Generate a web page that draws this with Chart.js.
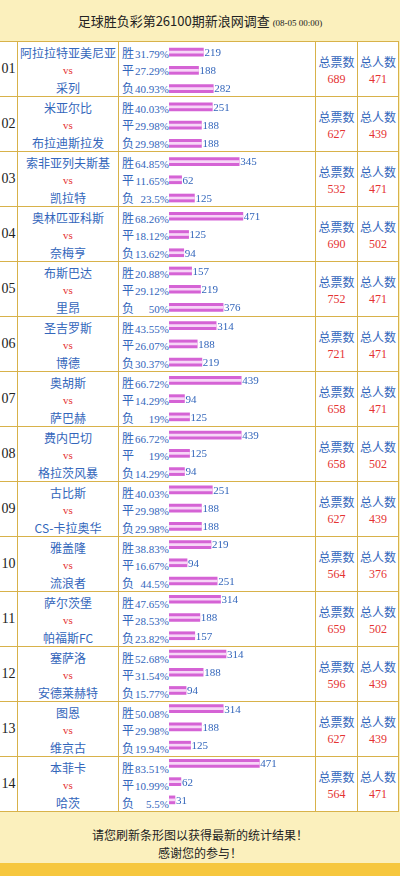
<!DOCTYPE html>
<html><head><meta charset="utf-8">
<script src="https://cdn.jsdelivr.net/npm/chart.js@4"></script>
<style>
body{margin:0;width:400px;height:876px;background:#fbf0bd;position:relative;overflow:hidden;font-family:"Noto Sans CJK SC",sans-serif}
#hdr{position:absolute;left:0;top:0;width:400px;height:41px;line-height:41px;text-align:center;font-size:13px;color:#222}
#hdr small{font-size:9px;font-family:"Liberation Serif",serif}
#tbl{position:absolute;left:0;top:41px;width:399px;height:770px;background:#fff;border-top:1px solid #d8b24a}
.row{position:absolute;left:0;width:399px;height:55px;border-bottom:1px solid #d8b24a;box-sizing:border-box}
.c{position:absolute;top:0;height:100%;border-left:1px solid #d8b24a;box-sizing:border-box}
.no{left:0;width:17px;font-family:"Liberation Serif",serif;font-size:14px;color:#222;line-height:54px;text-align:center;border-left:none}
.tm{left:17px;width:101px;text-align:center;font-size:12px;color:#3366bb}
.tm div{position:absolute;left:0;width:100%;line-height:16px}
.vs{color:#e53333;font-family:"Liberation Serif",serif;font-size:11px}
.od{left:118px;width:197px;font-size:12px;color:#3366bb}
.od div{position:absolute;left:3px;line-height:16px}
.od span{display:inline-block;width:35px;text-align:right;font-family:"Liberation Serif",serif;font-size:11px}
.tv{left:315px;width:42px;text-align:center;font-size:12px;color:#3366bb;padding-top:12px;line-height:16px}
.tp{left:357px;width:42px;text-align:center;font-size:12px;color:#3366bb;padding-top:12px;line-height:16px;border-right:1px solid #d8b24a}
.red{color:#e53333;font-family:"Liberation Serif",serif}
#cv{position:absolute;left:169px;top:43px;width:145px;height:766px}
#ft{position:absolute;left:0;top:826px;width:400px;text-align:center;font-size:12px;color:#222;line-height:18px}
#bb{position:absolute;left:0;top:863px;width:400px;height:13px;background:#f6c73e}
</style></head><body>
<div id="hdr">足球胜负彩第26100期新浪网调查 <small>(08-05 00:00)</small></div>
<div id="tbl"></div>
<div id="cv"><canvas id="c"></canvas></div>
<div id="ft">请您刷新条形图以获得最新的统计结果！<br>感谢您的参与！</div>
<div id="bb"></div>
<script>
const homeTeams=["阿拉拉特亚美尼亚","米亚尔比","索非亚列夫斯基","奥林匹亚科斯","布斯巴达","圣吉罗斯","奥胡斯","费内巴切","古比斯","雅盖隆","萨尔茨堡","塞萨洛","图恩","本菲卡"];
const awayTeams=["采列","布拉迪斯拉发","凯拉特","奈梅亨","里昂","博德","萨巴赫","格拉茨风暴","CS-卡拉奥华","流浪者","帕福斯FC","安德莱赫特","维京古","哈茨"];
const winPct=[31.79,40.03,64.85,68.26,20.88,43.55,66.72,66.72,40.03,38.83,47.65,52.68,50.08,83.51];
const drawPct=[27.29,29.98,11.65,18.12,29.12,26.07,14.29,19,29.98,16.67,28.53,31.54,29.98,10.99];
const lossPct=[40.93,29.98,23.5,13.62,50,30.37,19,14.29,29.98,44.5,23.82,15.77,19.94,5.5];
const winCnt=[219,251,345,471,157,314,439,439,251,219,314,314,314,471];
const drawCnt=[188,188,62,125,219,188,94,125,188,94,188,188,188,62];
const lossCnt=[282,188,125,94,376,219,125,94,188,251,157,94,125,31];
const totalVotes=[689,627,532,690,752,721,658,658,627,564,659,596,627,564];
const totalPeople=[471,439,471,502,471,471,471,502,439,376,502,439,439,471];
const outcomeLabels=["胜","平","负"];

const tbl=document.getElementById('tbl');
const offs=[3,20,38];
homeTeams.forEach((h,i)=>{
  const pcts=[winPct[i],drawPct[i],lossPct[i]];
  let od='';
  for(let k=0;k<3;k++) od+=`<div style="top:${offs[k]}px">${outcomeLabels[k]}<span>${pcts[k]}%</span></div>`;
  tbl.insertAdjacentHTML('beforeend',`<div class="row" style="top:${i*55}px">
  <div class="c no">${String(i+1).padStart(2,'0')}</div>
  <div class="c tm"><div style="top:3px">${h}</div><div class="vs" style="top:20px">vs</div><div style="top:38px">${awayTeams[i]}</div></div>
  <div class="c od">${od}</div>
  <div class="c tv">总票数<br><span class="red">${totalVotes[i]}</span></div>
  <div class="c tp">总人数<br><span class="red">${totalPeople[i]}</span></div></div>`);
});
const labels=[],vals=[],cnts=[];
homeTeams.forEach((h,i)=>{
  [winPct[i],drawPct[i],lossPct[i]].forEach((p,k)=>{labels.push(h+outcomeLabels[k]);vals.push(p);});
  cnts.push(winCnt[i],drawCnt[i],lossCnt[i]);
});
const cntPlugin={id:'cnt',afterDatasetsDraw(ch){
  const ctx=ch.ctx,meta=ch.getDatasetMeta(0);
  ctx.save();ctx.fillStyle='#3366bb';ctx.font='11px "Liberation Serif",serif';ctx.textBaseline='middle';
  meta.data.forEach((b,j)=>ctx.fillText(cnts[j],b.x+1,b.y+1));ctx.restore();}};
new Chart(document.getElementById('c'),{type:'bar',
 data:{labels,datasets:[
  {data:vals,backgroundColor:'#d563d5',barThickness:8,order:1,grouped:false},
  {data:vals,backgroundColor:'#f7d6f7',barThickness:2,order:0,grouped:false}]},
 options:{indexAxis:'y',responsive:true,maintainAspectRatio:false,animation:false,
  plugins:{legend:{display:false},tooltip:{enabled:false}},
  layout:{padding:0},
  scales:{x:{display:false,min:0,max:134},y:{display:false}}},
 plugins:[cntPlugin]});
</script></body></html>
